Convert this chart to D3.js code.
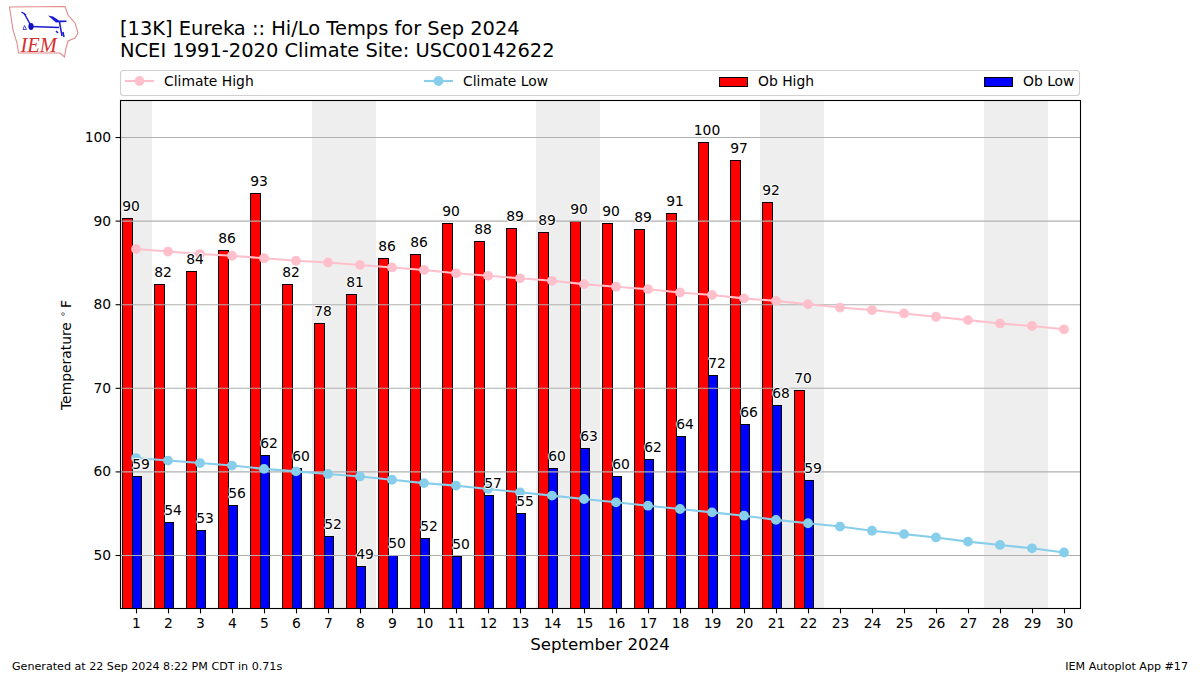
<!DOCTYPE html>
<html><head><meta charset="utf-8">
<script src="https://cdn.jsdelivr.net/npm/d3@7"></script>
<style>
html,body{margin:0;padding:0;background:#fff}
svg{display:block}
text{font-family:"DejaVu Sans";fill:#000}
</style></head><body>
<svg id="c" width="1200" height="675"></svg>
<script>
const days = d3.range(1, 31);
const obHigh = [90.3,82.4,84.0,86.5,93.3,82.4,77.7,81.2,85.5,86.0,89.7,87.6,89.1,88.6,89.9,89.7,89.0,90.9,99.4,97.2,92.2,69.7];
const obLow = [59.4,53.9,53.0,56.0,62.0,60.4,52.3,48.7,50.0,52.0,49.9,57.2,55.0,60.4,62.8,59.4,61.5,64.2,71.5,65.7,67.9,59.0];
const highLabels = [90,82,84,86,93,82,78,81,86,86,90,88,89,89,90,90,89,91,100,97,92,70];
const lowLabels = [59,54,53,56,62,60,52,49,50,52,50,57,55,60,63,60,62,64,72,66,68,59];
const climateHigh = [86.6,86.3,86.0,85.8,85.5,85.2,85.0,84.7,84.4,84.1,83.7,83.4,83.1,82.8,82.4,82.1,81.8,81.4,81.1,80.7,80.4,80.0,79.6,79.3,78.9,78.5,78.1,77.7,77.4,77.0];
const climateLow = [61.6,61.3,61.0,60.7,60.3,60.0,59.7,59.4,59.0,58.6,58.3,57.9,57.5,57.1,56.7,56.3,55.9,55.5,55.1,54.7,54.2,53.8,53.4,52.9,52.5,52.1,51.6,51.2,50.8,50.3];
const weekends = [[0.5,1.5],[6.5,8.5],[13.5,15.5],[20.5,22.5],[27.5,29.5]];
const yTicks = [50,60,70,80,90,100];
const titleLines = ["[13K] Eureka :: Hi/Lo Temps for Sep 2024","NCEI 1991-2020 Climate Site: USC00142622"];
const legendItems = ["Climate High","Climate Low","Ob High","Ob Low"];

const L=120,R=1080,T=100,B=608;
const x=d3.scaleLinear().domain([0.5,30.5]).range([L,R]);
const y=d3.scaleLinear().domain([43.66,104.43]).range([B,T]);
const svg=d3.select("#c");
const barW=0.3, redStart=-0.44, blueStart=-0.14;
const snap=v=>Math.round(v)+0.5;

// logo (decoration)
const logo=svg.append("g");
logo.append("path").attr("d","M9.5,7 L65,6.5 L68,15 L75,23 L78,33 L75,38 L68,41 L66,48 L64.5,57 L60,53 L18.5,53 L17,43 L13,30 Z")
 .attr("fill","none").attr("stroke","#e28a8a").attr("stroke-width",1.1);
logo.append("path").attr("d","M31,26.5 L59,27.5 M24,13 L30,24 M21.5,12 L26,15 M59.5,22 L62,36 M56,31 L58,33 M63,32 L64,37")
 .attr("fill","none").attr("stroke","#1a1ad0").attr("stroke-width",1.5);
logo.append("path").attr("d","M48,15.5 L53,16.5 L59,20.5 L66.5,20.5 L66.5,22 L56,22.5 Z").attr("fill","#1a1ad0");
logo.append("ellipse").attr("cx",31).attr("cy",26.5).attr("rx",2.6).attr("ry",3.4).attr("fill","#1010c0");
logo.append("path").attr("d","M23,29.5 L24.5,25.5 L26.5,29.5 Z").attr("fill","none").attr("stroke","#4a4ad8").attr("stroke-width",1);
logo.append("text").text("IEM").attr("x",20.5).attr("y",52).attr("font-size",20.5).attr("font-style","italic")
 .style("font-family","Liberation Serif").style("fill","#d83030");

// titles
svg.append("g").selectAll("text").data(titleLines).join("text").text(d=>d)
 .attr("x",120).attr("y",(d,i)=>35+i*22).attr("font-size",19.44);

// legend
const lg=svg.append("g");
lg.append("rect").attr("x",120.5).attr("y",70.5).attr("width",959).attr("height",25).attr("rx",3)
 .attr("fill","#fff").attr("stroke","#d0d0d0").attr("stroke-width",1.1);
const lgX=[125,424,719,984];
const lgColors=["pink","skyblue","red","blue"];
legendItems.forEach((t,i)=>{
  if(i<2){
    lg.append("line").attr("x1",lgX[i]).attr("x2",lgX[i]+29).attr("y1",81).attr("y2",81).attr("stroke",lgColors[i]).attr("stroke-width",2.08);
    lg.append("circle").attr("cx",lgX[i]+14.5).attr("cy",81).attr("r",4.9).attr("fill",lgColors[i]);
  } else {
    lg.append("rect").attr("x",lgX[i]+.5).attr("y",77.5).attr("width",28).attr("height",9).attr("fill",lgColors[i]).attr("stroke","#000").attr("stroke-width",1);
  }
  lg.append("text").text(t).attr("x",lgX[i]+39).attr("y",86).attr("font-size",13.89);
});

// plot
svg.append("defs").append("clipPath").attr("id","pc").append("rect").attr("x",L).attr("y",T).attr("width",R-L).attr("height",B-T);
const plot=svg.append("g").attr("clip-path","url(#pc)");
plot.selectAll("rect.wk").data(weekends).join("rect").attr("class","wk")
 .attr("x",d=>x(d[0])).attr("width",d=>x(d[1])-x(d[0])).attr("y",T).attr("height",B-T).attr("fill","#eeeeee");

function bars(vals,start,col){
  plot.append("g").selectAll("rect").data(vals).join("rect")
   .attr("x",(d,i)=>snap(x(days[i]+start)))
   .attr("width",(d,i)=>Math.round(x(days[i]+start+barW))-Math.round(x(days[i]+start)))
   .attr("y",d=>snap(y(d)))
   .attr("height",d=>B+5-snap(y(d)))
   .attr("fill",col).attr("stroke","#000").attr("stroke-width",1);
}
bars(obHigh,redStart,"red");
bars(obLow,blueStart,"blue");

// grid
plot.append("g").selectAll("line").data(yTicks).join("line")
 .attr("x1",L).attr("x2",R).attr("y1",d=>y(d)+.5).attr("y2",d=>y(d)+.5)
 .attr("stroke","#b0b0b0").attr("stroke-width",1.1);

// climate lines
function clim(vals,col){
  const ln=d3.line().x((d,i)=>x(days[i])).y(d=>y(d));
  svg.append("path").attr("d",ln(vals)).attr("fill","none").attr("stroke",col).attr("stroke-width",2.08);
  svg.append("g").selectAll("circle").data(vals).join("circle")
   .attr("cx",(d,i)=>x(days[i])).attr("cy",d=>y(d)).attr("r",4.9).attr("fill",col);
}
clim(climateHigh,"pink");
clim(climateLow,"skyblue");

// spines
svg.append("rect").attr("x",L+.5).attr("y",T+.5).attr("width",R-L).attr("height",B-T)
 .attr("fill","none").attr("stroke","#000").attr("stroke-width",1.1);

// axes
const ax=svg.append("g").attr("transform",`translate(0,${B+.5})`)
 .call(d3.axisBottom(x).tickValues(days).tickFormat(d3.format("d")).tickSize(4.9).tickPadding(4.5));
const ay=svg.append("g").attr("transform",`translate(${L+.5},0)`)
 .call(d3.axisLeft(y).tickValues(yTicks).tickFormat(d3.format("d")).tickSize(4.9).tickPadding(4.5));
[ax,ay].forEach(a=>{
  a.select(".domain").remove();
  a.selectAll(".tick line").attr("stroke","#000").attr("stroke-width",1.1);
  a.selectAll(".tick text").attr("font-size",13.89).style("font-family","DejaVu Sans").attr("fill","#000");
});

// value labels
function labels(vals,labs,off){
  svg.append("g").selectAll("text").data(vals).join("text")
   .text((d,i)=>labs[i])
   .attr("x",(d,i)=>x(days[i])+off).attr("y",d=>y(d)-7)
   .attr("text-anchor","middle").attr("font-size",13.89)
   .attr("stroke","#fff").attr("stroke-width",2).attr("paint-order","stroke").attr("stroke-linejoin","round");
}
labels(obHigh,highLabels,-5);
labels(obLow,lowLabels,5);

// axis titles
svg.append("text").text("September 2024").attr("x",600).attr("y",649.5).attr("text-anchor","middle").attr("font-size",16.67);
const yl=svg.append("text").attr("transform","translate(71,410) rotate(-90)").attr("font-size",13.89);
yl.append("tspan").text("Temperature");
yl.append("tspan").text("\u2218").attr("dx",5).attr("dy",-5).attr("font-size",9.7);
yl.append("tspan").text("F").attr("dx",3).attr("dy",5);

// footer
svg.append("text").text("Generated at 22 Sep 2024 8:22 PM CDT in 0.71s").attr("x",12).attr("y",670).attr("font-size",11.11);
svg.append("text").text("IEM Autoplot App #17").attr("x",1188).attr("y",670).attr("text-anchor","end").attr("font-size",11.11);
</script>
</body></html>
